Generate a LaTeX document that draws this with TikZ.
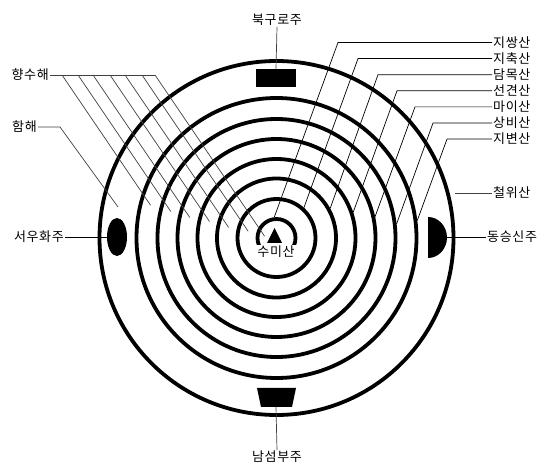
\documentclass[tikz,border=0pt]{standalone}
\usepackage{fontspec}
\setmainfont[LetterSpace=5]{Noto Sans CJK KR}
\usetikzlibrary{positioning}

\begin{document}
\begin{tikzpicture}[x=1pt,y=-1pt,
ringline/.style={line width=3.8pt},
leader/.style={draw=black!75, line width=0.7pt},
pointer/.style={draw=black, line width=0.9pt},
landmass/.style={fill=black},
labeltext/.style={font=\fontsize{13}{15}\selectfont, inner sep=1pt},
]
\useasboundingbox (0,0) rectangle (550,476);
\coordinate (c) at (276.5,238);

%Rings
\draw[ringline] (c) circle[radius=177pt];
\foreach \r in {19,39,59.5,79,99,119,140}
  \draw[ringline] (c) circle[radius=\r pt];

%Continents and mountain
\fill[landmass] (256,69) rectangle (296,87);
\fill[landmass] (257,388) -- (296,388) -- (292,407) -- (261,407) -- cycle;
\fill[landmass] (117,237) ellipse[x radius=10pt, y radius=19pt];
\fill[landmass] (428,217) arc[start angle=90, end angle=-90, x radius=19pt, y radius=20.5pt] -- cycle;
\fill[landmass] (274.5,228) -- (282,243) -- (267,243) -- cycle;

%Nodes
\node[labeltext, fill=white] (sumi) at (276,252) {수미산};
\node[labeltext] (north) at (277,20) {북구로주};
\node[labeltext] (south) at (277,457) {남섬부주};
\node[labeltext, anchor=east] (west) at (65,237) {서우화주};
\node[labeltext, anchor=west] (east) at (486,237) {동승신주};
\node[labeltext, anchor=east] (hyang) at (50,75) {향수해};
\node[labeltext, anchor=east] (ham) at (38,127) {함해};
\node[labeltext, anchor=west] (cheol) at (492,193) {철위산};

\coordinate (northbox) at (276,69);
\coordinate (southbox) at (276,407);
\coordinate (westdot) at (107,237);
\coordinate (eastdot) at (447,237);
\coordinate (hambend) at (60,127);
\coordinate (hamend) at (118,207);
\coordinate (cheolend) at (455,193);

%Lines
\draw[leader] (north.south) -- (northbox);
\draw[leader] (south.north) -- (southbox);
\draw[pointer] (west.east) -- (westdot);
\draw[pointer] (east.west) -- (eastdot);
\draw[leader] (cheol.west) -- (cheolend);
\draw[leader] (ham.east) -- (hambend) -- (hamend);

\foreach \i/\sx/\ex/\ey in {1/62/150.6/205.3, 2/78/170.8/211.5, 3/93/189.8/217.5,
  4/110/209.5/221.5, 5/125/228.6/227.4, 6/142/248.2/231.3, 7/155/264.6/236.3}{
  \coordinate (hs\i) at (\sx,75);
  \coordinate (he\i) at (\ex,\ey);
  \draw[leader] (hs\i) -- (he\i);
}
\draw[leader] (hyang.east) -- (hs7);

\foreach \i/\txt/\ly/\sx/\ex/\ey in {1/지쌍산/42.5/338/274.3/217.1, 2/지축산/58.6/358/303.9/207.7,
  3/담목산/74.7/378/330.3/208.1, 4/선견산/90.8/397/353.2/212.3, 5/마이산/106.9/415/375.1/216.6,
  6/상비산/123/433/396.6/223.9, 7/지변산/139.1/447/417.3/220.5}{
  \node[labeltext, anchor=west] (mt\i) at (492,\ly) {\txt};
  \coordinate (ms\i) at (\sx,\ly);
  \coordinate (me\i) at (\ex,\ey);
  \draw[pointer, line width=0.7pt] (mt\i.west) -- (ms\i) -- (me\i);
}
\end{tikzpicture}
\end{document}
